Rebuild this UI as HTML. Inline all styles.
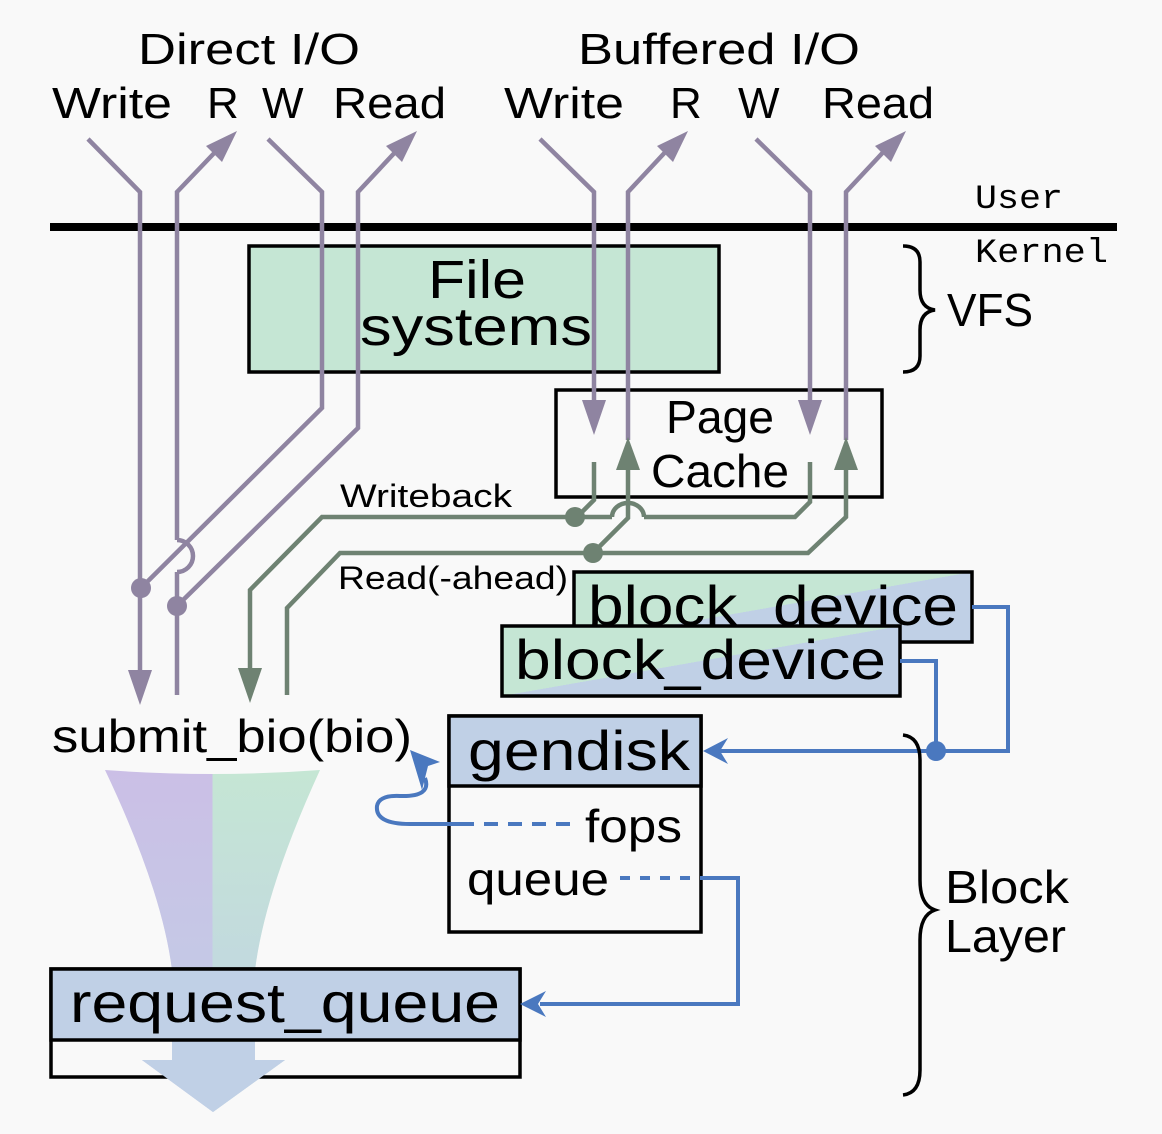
<!DOCTYPE html>
<html><head><meta charset="utf-8"><style>
html,body{margin:0;padding:0;background:#f9f9f9;}
svg{display:block;}
text{font-family:"Liberation Sans",sans-serif;fill:#000;}
.mono{font-family:"Liberation Mono",monospace;}
</style></head><body>
<svg width="1162" height="1134" viewBox="0 0 1162 1134" xmlns="http://www.w3.org/2000/svg">
<defs>
<linearGradient id="fun" x1="0" y1="0" x2="1" y2="0">
<stop offset="0" stop-color="#cbbfe6"/><stop offset="0.5" stop-color="#cbbfe6"/><stop offset="0.5" stop-color="#c5e6d4"/><stop offset="1" stop-color="#c5e6d4"/>
</linearGradient>
<linearGradient id="fade" x1="0" y1="0" x2="0" y2="1">
<stop offset="0" stop-color="#c0d0e6" stop-opacity="0"/><stop offset="1" stop-color="#c0d0e6" stop-opacity="1"/>
</linearGradient>
<linearGradient id="bd" x1="0" y1="0" x2="1" y2="1" gradientUnits="objectBoundingBox">
<stop offset="0" stop-color="#c5e6d4"/><stop offset="0.5" stop-color="#c5e6d4"/><stop offset="0.5" stop-color="#c0d0e6"/><stop offset="1" stop-color="#c0d0e6"/>
</linearGradient>
</defs>

<path d="M105,770 Q213,778 320,770 Q265,890 255,970 L255,1060 L285,1060 L213,1112 L142,1060 L172,1060 L172,970 Q162,890 105,770 Z" fill="url(#fun)"/>
<path d="M105,770 Q213,778 320,770 Q265,890 255,970 L255,1060 L285,1060 L213,1112 L142,1060 L172,1060 L172,970 Q162,890 105,770 Z" fill="url(#fade)"/>

<g lengthAdjust="spacingAndGlyphs">
<text x="138" y="64" font-size="44" textLength="222" lengthAdjust="spacingAndGlyphs">Direct I/O</text>
<text x="52" y="118" font-size="44" textLength="120" lengthAdjust="spacingAndGlyphs">Write</text>
<text x="207" y="118" font-size="44">R</text>
<text x="262" y="118" font-size="44">W</text>
<text x="333" y="118" font-size="44" textLength="113" lengthAdjust="spacingAndGlyphs">Read</text>
<text x="578" y="64" font-size="44" textLength="282" lengthAdjust="spacingAndGlyphs">Buffered I/O</text>
<text x="504" y="118" font-size="44" textLength="120" lengthAdjust="spacingAndGlyphs">Write</text>
<text x="670" y="118" font-size="44">R</text>
<text x="738" y="118" font-size="44">W</text>
<text x="822" y="118" font-size="44" textLength="112" lengthAdjust="spacingAndGlyphs">Read</text>
</g>

<line x1="50" y1="227" x2="1117" y2="227" stroke="#000" stroke-width="8"/>
<text x="975" y="208" font-size="34" class="mono" textLength="88" lengthAdjust="spacingAndGlyphs">User</text>
<text x="975" y="262" font-size="34" class="mono" textLength="133" lengthAdjust="spacingAndGlyphs">Kernel</text>

<rect x="249" y="246" width="470" height="126" fill="#c5e6d4" stroke="#000" stroke-width="3.5"/>
<text x="428" y="298" font-size="54" textLength="98" lengthAdjust="spacingAndGlyphs">File</text>
<text x="360" y="345" font-size="54" textLength="232" lengthAdjust="spacingAndGlyphs">systems</text>
<path d="M903,246 Q920,246 920,262 L920,290 Q920,308 935,310 Q920,312 920,330 L920,356 Q920,372 903,372" fill="none" stroke="#000" stroke-width="3.5"/>
<text x="947" y="326" font-size="46" textLength="86" lengthAdjust="spacingAndGlyphs">VFS</text>

<rect x="556" y="390" width="326" height="107" fill="none" stroke="#000" stroke-width="3.5"/>
<text x="666" y="433" font-size="46" textLength="108" lengthAdjust="spacingAndGlyphs">Page</text>
<text x="651" y="487" font-size="46" textLength="138" lengthAdjust="spacingAndGlyphs">Cache</text>

<g fill="none" stroke="#8f84a1" stroke-width="4.5">
<polyline points="88,139 140,192 140,688"/>
<polyline points="177,695 177,572"/>
<path d="M177,572 A16,16 0 0 0 177,540"/>
<polyline points="177,540 177,192 220,147"/>
<polyline points="268,139 322,192 322,408 141,588"/>
<polyline points="177,606 358,428 358,192 400,147"/>
<polyline points="540,139 594,192 594,425"/>
<polyline points="628,440 628,192 670,147"/>
<polyline points="756,139 810,192 810,425"/>
<polyline points="846,440 846,192 888,147"/>
</g>
<g fill="#8f84a1">
<polygon points="237,131 206,146 222,162"/>
<polygon points="417,131 386,146 402,162"/>
<polygon points="688,131 657,146 673,162"/>
<polygon points="906,131 875,146 891,162"/>
<polygon points="128,670 152,670 140,705"/>
<polygon points="582,400 606,400 594,435"/>
<polygon points="798,400 822,400 810,435"/>
<circle cx="141" cy="588" r="10"/>
<circle cx="177" cy="606" r="10"/>
</g>

<g fill="none" stroke="#6e8272" stroke-width="4.5">
<polyline points="594,462 594,500 577,517"/>
<polyline points="250,680 250,590 322,517 612,517"/>
<path d="M612,517 A16,14 0 0 1 644,517"/>
<polyline points="644,517 795,517 810,502 810,462"/>
<polyline points="287,695 287,608 340,553 808,553 846,517 846,460"/>
<polyline points="593,553 628,518 628,460"/>
</g>
<g fill="#6e8272">
<polygon points="238,668 262,668 250,703"/>
<polygon points="616,470 640,470 628,437"/>
<polygon points="834,470 858,470 846,437"/>
<circle cx="575" cy="517" r="10"/>
<circle cx="593" cy="553" r="10"/>
</g>
<text x="340" y="507" font-size="32" textLength="172" lengthAdjust="spacingAndGlyphs">Writeback</text>
<text x="338" y="589" font-size="32" textLength="230" lengthAdjust="spacingAndGlyphs">Read(-ahead)</text>

<rect x="574" y="572" width="398" height="70" fill="url(#bd)" stroke="#000" stroke-width="3.5"/>
<text x="588" y="625" font-size="56" textLength="370" lengthAdjust="spacingAndGlyphs">block_device</text>
<rect x="502" y="626" width="398" height="70" fill="url(#bd)" stroke="#000" stroke-width="3.5"/>
<text x="515" y="679" font-size="56" textLength="371" lengthAdjust="spacingAndGlyphs">block_device</text>

<rect x="449" y="716" width="252" height="216" fill="#f9f9f9" stroke="#000" stroke-width="3.5"/>
<rect x="449" y="716" width="252" height="70" fill="#c0d0e6" stroke="#000" stroke-width="3.5"/>
<text x="468" y="770" font-size="56" textLength="222" lengthAdjust="spacingAndGlyphs">gendisk</text>
<text x="585" y="842" font-size="46" textLength="97" lengthAdjust="spacingAndGlyphs">fops</text>
<text x="467" y="895" font-size="46" textLength="142" lengthAdjust="spacingAndGlyphs">queue</text>

<rect x="51" y="969" width="469" height="108" fill="none" stroke="#000" stroke-width="3.5"/>
<rect x="51" y="969" width="469" height="71" fill="#c0d0e6" stroke="#000" stroke-width="3.5"/>
<path d="M172,1042 L172,1060 L142,1060 L213,1112 L285,1060 L255,1060 L255,1042 Z" fill="#c0d0e6"/>
<text x="70" y="1022" font-size="56" textLength="430" lengthAdjust="spacingAndGlyphs">request_queue</text>

<text x="52" y="752" font-size="46" textLength="360" lengthAdjust="spacingAndGlyphs">submit_bio(bio)</text>

<g fill="none" stroke="#4a78bf" stroke-width="4">
<polyline points="972,607 1008,607 1008,751 720,751"/>
<polyline points="900,661 936,661 936,751"/>
<line x1="460" y1="824" x2="580" y2="824" stroke-dasharray="14,10"/>
<path d="M460,824 L410,824 Q375,824 377,806 Q379,795 400,796 Q432,797 425,778"/>
<line x1="620" y1="878" x2="700" y2="878" stroke-dasharray="10,10"/>
<polyline points="700,878 738,878 738,1004 540,1004"/>
</g>
<g fill="#4a78bf">
<polygon points="703,751 728,738 720,751 728,764"/>
<polygon points="520,1004 546,991 538,1004 546,1017"/>
<polygon points="410,750 440,762 428,766 422,790"/>
<circle cx="936" cy="751" r="10"/>
</g>

<path d="M903,735 Q920,737 920,760 L920,880 Q920,905 935,910 Q920,915 920,940 L920,1070 Q920,1093 903,1095" fill="none" stroke="#000" stroke-width="3.5"/>
<text x="945" y="903" font-size="46" textLength="124" lengthAdjust="spacingAndGlyphs">Block</text>
<text x="945" y="952" font-size="46" textLength="121" lengthAdjust="spacingAndGlyphs">Layer</text>
</svg>
</body></html>
